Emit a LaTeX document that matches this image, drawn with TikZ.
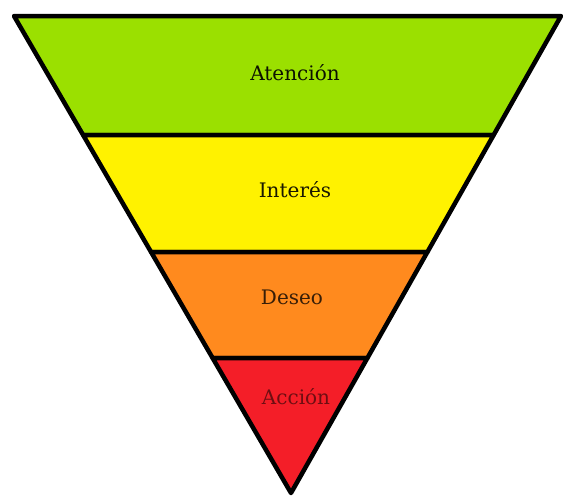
\documentclass[tikz,border=0pt]{standalone}
\usepackage{fontspec}
\setmainfont{DejaVu Serif}
\usetikzlibrary{calc}
\definecolor{verde}{HTML}{9BE000}
\definecolor{amarillo}{HTML}{FFF200}
\definecolor{naranja}{HTML}{FF8A1E}
\definecolor{rojo}{HTML}{F41E28}

\begin{document}
\begin{tikzpicture}[x=1pt, y=-1pt,
    band/.style={draw=black, line width=4.5pt, line join=round},
    etapa/.style={font=\fontsize{20}{24}\selectfont, inner sep=0pt}
]
\useasboundingbox (0,0) rectangle (564,499);

% Outer triangle
\coordinate (tl) at (14,16);
\coordinate (tr) at (561,16);
\coordinate (apex) at (291,493);

% Band edges
\coordinate (l1) at ($(tl)!0.2495!(apex)$);
\coordinate (r1) at ($(tr)!0.2495!(apex)$);
\coordinate (l2) at ($(tl)!0.4948!(apex)$);
\coordinate (r2) at ($(tr)!0.4948!(apex)$);
\coordinate (l3) at ($(tl)!0.717!(apex)$);
\coordinate (r3) at ($(tr)!0.717!(apex)$);

% Bands
\draw[band, fill=verde] (tl) -- (tr) -- (r1) -- (l1) -- cycle;
\draw[band, fill=amarillo] (l1) -- (r1) -- (r2) -- (l2) -- cycle;
\draw[band, fill=naranja] (l2) -- (r2) -- (r3) -- (l3) -- cycle;
\draw[band, fill=rojo] (l3) -- (r3) -- (apex) -- cycle;

% Labels
\node[etapa, text=verde!8!black] (atencion) at (295,73) {Atención};
\node[etapa, text=amarillo!10!black] (interes) at (295,190) {Interés};
\node[etapa, text=naranja!22!black] (deseo) at (292,297) {Deseo};
\node[etapa, text=rojo!45!black] (accion) at (296,397) {Acción};

\end{tikzpicture}
\end{document}
